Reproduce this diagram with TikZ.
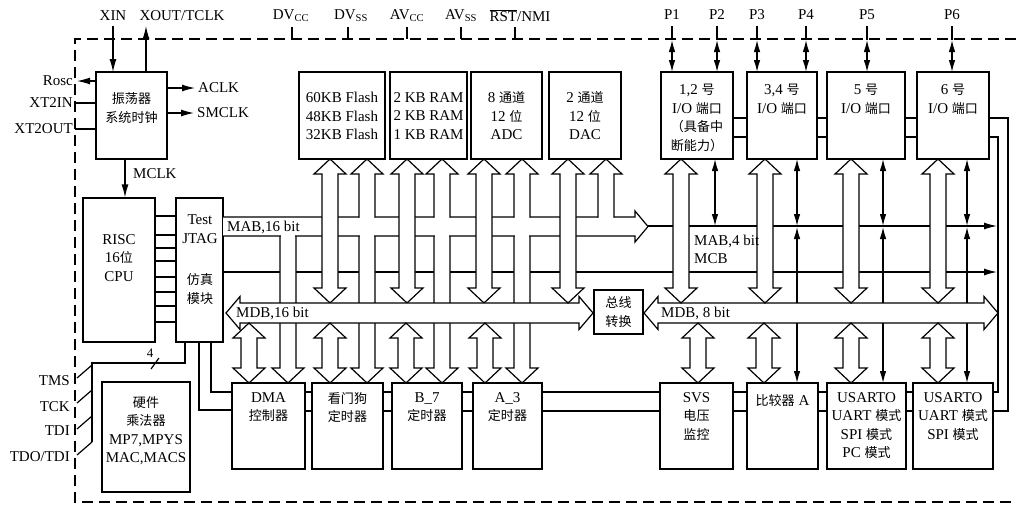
\documentclass[tikz,border=0pt]{standalone}
\usepackage{fontspec}
\setmainfont{Liberation Serif}
\newfontfamily\cjkfont[Scale=0.87]{Noto Sans CJK SC}
\usetikzlibrary{arrows.meta}
\newcommand{\zh}[1]{{\cjkfont #1}}
\newcommand{\blk}[5]{\node[box, minimum width={(#4-#2)*1pt}, minimum height={(#5-#3)*1pt}] (#1) at ({(#2+#4)/2},{(#3+#5)/2}) {};}
\newcommand{\busboth}[3]{\filldraw[bus] ({#1},{#2}) -- ({#1+16},{#2+15}) -- ({#1+8},{#2+15}) -- ({#1+8},{#3-15}) -- ({#1+16},{#3-15}) -- ({#1},{#3}) -- ({#1-16},{#3-15}) -- ({#1-8},{#3-15}) -- ({#1-8},{#2+15}) -- ({#1-16},{#2+15}) -- cycle;}
\newcommand{\busup}[3]{\filldraw[bus] ({#1-8},{#3}) -- ({#1-8},{#2+15}) -- ({#1-16},{#2+15}) -- ({#1},{#2}) -- ({#1+16},{#2+15}) -- ({#1+8},{#2+15}) -- ({#1+8},{#3});}
\newcommand{\busdown}[3]{\filldraw[bus] ({#1-8},{#2}) -- ({#1-8},{#3-15}) -- ({#1-16},{#3-15}) -- ({#1},{#3}) -- ({#1+16},{#3-15}) -- ({#1+8},{#3-15}) -- ({#1+8},{#2});}
\newcommand{\buserase}[2]{\fill[white] ({#1-7.3},{#2-1.8}) rectangle ({#1+7.3},{#2+1.8});}
\begin{document}
\begin{tikzpicture}[x=1pt,y=-1pt,
  every node/.style={font=\fontsize{15}{18.5}\selectfont, inner sep=0pt},
  box/.style={draw, line width=1.2pt, fill=white},
  ln/.style={line width=1.2pt},
  arr/.style={line width=1.2pt, -{Latex[length=13pt,width=7pt]}},
  darr/.style={line width=1.2pt, {Latex[length=12pt,width=6.5pt]}-{Latex[length=12pt,width=6.5pt]}},
  bus/.style={draw, fill=white, line width=1.2pt, line join=miter},
  border/.style={line width=1.2pt, dash pattern=on 11pt off 6pt},
  txt/.style={align=center}]
\useasboundingbox (0,0) rectangle (1016,507);
% border
\draw[border] (1016,39) -- (75,39) -- (75,502) -- (1016,502);
% boxes
\blk{osc}{96}{72}{167}{159}
\blk{cpu}{83}{198}{155}{342}
\blk{jtag}{176}{198}{223}{342}
\blk{mult}{102}{382}{190}{492}
\blk{dma}{232}{383}{305}{469}
\blk{wdt}{312}{383}{383}{469}
\blk{bseven}{392}{383}{462}{469}
\blk{athree}{473}{383}{542}{469}
\blk{svs}{660}{383}{733}{469}
\blk{cmp}{747}{383}{818}{469}
\blk{usa}{827}{383}{906}{469}
\blk{usb}{913}{383}{993}{469}
\blk{flash}{299}{72}{385}{159}
\blk{ram}{390}{72}{467}{159}
\blk{adc}{471}{72}{542}{159}
\blk{dac}{549}{72}{621}{159}
\blk{ioa}{661}{72}{733}{159}
\blk{iob}{747}{72}{817}{159}
\blk{ioc}{827}{72}{905}{159}
\blk{iod}{917}{72}{989}{159}
\blk{conv}{594}{290}{643}{334}
% box texts
\node[txt] at (131.5,108) {\zh{振荡器}\\\zh{系统时钟}};
\node[txt] at (119,258) {RISC\\16\zh{位}\\CPU};
\node[txt] at (200,229) {Test\\JTAG};
\node[txt] at (200,289) {\zh{仿真}\\\zh{模块}};
\node[txt] at (342,116) {60KB Flash\\48KB Flash\\32KB Flash};
\node[txt] at (428.5,116) {2 KB RAM\\2 KB RAM\\1 KB RAM};
\node[txt] at (506.5,116) {8 \zh{通道}\\12 \zh{位}\\ADC};
\node[txt] at (585,116) {2 \zh{通道}\\12 \zh{位}\\DAC};
\node[txt,anchor=north] at (697,84) {1,2 \zh{号}\\I/O \zh{端口}\\\zh{（具备中}\\\zh{断能力）}};
\node[txt,anchor=north] at (782,84) {3,4 \zh{号}\\I/O \zh{端口}};
\node[txt,anchor=north] at (866,84) {5 \zh{号}\\I/O \zh{端口}};
\node[txt,anchor=north] at (953,84) {6 \zh{号}\\I/O \zh{端口}};
\node[txt,anchor=north] at (268.5,392) {DMA\\\zh{控制器}};
\node[txt,anchor=north] at (347.5,392) {\zh{看门狗}\\\zh{定时器}};
\node[txt,anchor=north] at (427,392) {B\_7\\\zh{定时器}};
\node[txt,anchor=north] at (507.5,392) {A\_3\\\zh{定时器}};
\node[txt,anchor=north] at (696.5,392) {SVS\\\zh{电压}\\\zh{监控}};
\node[txt,anchor=north] at (782.5,394) {\zh{比较器} A};
\node[txt,anchor=north] at (866.5,392) {USARTO\\UART \zh{模式}\\SPI \zh{模式}\\PC \zh{模式}};
\node[txt,anchor=north] at (953,392) {USARTO\\UART \zh{模式}\\SPI \zh{模式}};
\node[txt,anchor=north] at (146,396) {\zh{硬件}\\\zh{乘法器}\\MP7,MPYS\\MAC,MACS};
\node[txt] at (conv.center) {\zh{总线}\\\zh{转换}};
% top pin labels
\node (xin) at (113,16) {XIN};
\node (xout) at (182,16) {XOUT/TCLK};
\node (dvcc) at (291,16) {DV\textsubscript{CC}};
\node (dvss) at (351,16) {DV\textsubscript{SS}};
\node (avcc) at (407,16) {AV\textsubscript{CC}};
\node (avss) at (461,16) {AV\textsubscript{SS}};
\node (rst) at (520,16) {$\overline{\hbox{RST}}$/NMI};
\draw[ln] (292,27) -- (292,39);
\draw[ln] (348,27) -- (348,39);
\draw[ln] (407,27) -- (407,39);
\draw[ln] (461,27) -- (461,39);
\draw[ln] (515,27) -- (515,39);
\foreach \n/\x in {1/672,2/717,3/757,4/806,5/867,6/952}{
  \node (p\n) at (\x,15) {P\n};
  \draw[ln] (\x,26) -- (\x,40);
  \draw[darr] (\x,40) -- (\x,72);
}
% oscillator connections
\draw[arr] (113,26) -- (113,72);
\draw[arr] (146,72) -- (146,26);
\node[anchor=east] (rosc) at (73,81) {Rosc};
\node[anchor=east] (xt2in) at (73,103) {XT2IN};
\node[anchor=east] (xt2out) at (73,129) {XT2OUT};
\draw[arr] (osc.west |- 0,81) -- (77,81);
\draw[ln] (75,103) -- (osc.west |- 0,103);
\draw[ln] (75,129) -- (osc.west |- 0,129);
\draw[arr] (osc.east |- 0,88) -- (195,88);
\node[anchor=west] (aclk) at (198,88) {ACLK};
\draw[arr] (osc.east |- 0,113) -- (194,113);
\node[anchor=west] (smclk) at (197,113) {SMCLK};
\draw[arr] (osc.south -| 125,0) -- (cpu.north -| 125,0);
\node[anchor=west] (mclk) at (133,174) {MCLK};
% CPU - JTAG
\foreach \y in {216,235,248,261,277,292,306,322} \draw[ln] (cpu.east |- 0,\y) -- (jtag.west |- 0,\y);
% JTAG pins
\node[anchor=east] (tms) at (70,381) {TMS};
\node[anchor=east] (tck) at (70,407) {TCK};
\node[anchor=east] (tdi) at (70,431) {TDI};
\node[anchor=east] (tdo) at (70,457) {TDO/TDI};
\draw[ln] (185,342) -- (185,363) -- (92,363) -- (92,442);
\foreach \y in {378,403,429,455} \draw[ln] (92,{\y-13}) -- (77,\y);
\node at (150,353) {\fontsize{13}{13}\selectfont 4};
\draw[ln] (151,369) -- (159,358);
\draw[ln] (199,342) -- (199,410) -- (dma.west |- 0,410);
\draw[ln] (211,342) -- (211,392) -- (dma.west |- 0,392);
% links between boxes
\foreach \a/\b in {dma/wdt,wdt/bseven,bseven/athree,athree/svs,svs/cmp,cmp/usa,usa/usb}{
  \draw[ln] (\a.east |- 0,392) -- (\b.west |- 0,392);
  \draw[ln] (\a.east |- 0,411) -- (\b.west |- 0,411);
}
\foreach \a/\b in {ioa/iob,iob/ioc,ioc/iod}{
  \draw[ln] (\a.east |- 0,118) -- (\b.west |- 0,118);
  \draw[ln] (\a.east |- 0,137) -- (\b.west |- 0,137);
}
\draw[ln] (iod.east |- 0,118) -- (1008,118) -- (1008,411) -- (usb.east |- 0,411);
\draw[ln] (iod.east |- 0,137) -- (998,137) -- (998,392) -- (usb.east |- 0,392);
% thin buses
\draw[arr] (jtag.east |- 0,272) -- (997,272);
\draw[arr] (648,226) -- (997,226);
\draw[darr] (715,159) -- (715,226);
\foreach \x in {797,883,967}{
  \draw[darr] (\x,159) -- (\x,226);
  \draw[darr] (\x,227) -- (\x,383);
}
% MAB down arrows to bottom boxes
\foreach \x in {288,367,442,522} {\busdown{\x}{235.5}{383}}
% MAB main
\filldraw[bus] (223,217) -- (635,217) -- (635,211) -- (648,226.5) -- (635,242) -- (635,236) -- (223,236);
% MAB up arrows to top boxes
\foreach \x in {367,442,522,606} {\busup{\x}{159}{217.5}}
\foreach \x in {367,442,522,606} {\buserase{\x}{217}}
\foreach \x in {288,367,442,522} {\buserase{\x}{236}}
% MDB arrows from top boxes
\foreach \x in {330,407,484} {\busboth{\x}{159}{303}}
% MDB 16 and MDB 8
\filldraw[bus] (226,313) -- (240,296.5) -- (240,303) -- (579,303) -- (579,296.5) -- (593,313) -- (579,329.5) -- (579,323) -- (240,323) -- (240,329.5) -- cycle;
\busboth{568}{159}{303}
\filldraw[bus] (644,313) -- (658,296.5) -- (658,303) -- (984,303) -- (984,296.5) -- (998,313) -- (984,329.5) -- (984,323) -- (658,323) -- (658,329.5) -- cycle;
\foreach \x in {681,765,851,938} {\busboth{\x}{159}{303}}
% MDB arrows to bottom boxes
\foreach \x in {249,330,406,485,698,764,851,938} {\busboth{\x}{323}{383}}
% bus labels
\node[anchor=west] at (227,227) {MAB,16 bit};
\node[anchor=west] at (236,313) {MDB,16 bit};
\node[anchor=west] at (694,241) {MAB,4 bit};
\node[anchor=west] at (694,259) {MCB};
\node[anchor=west] at (661,313) {MDB, 8 bit};
\end{tikzpicture}
\end{document}
